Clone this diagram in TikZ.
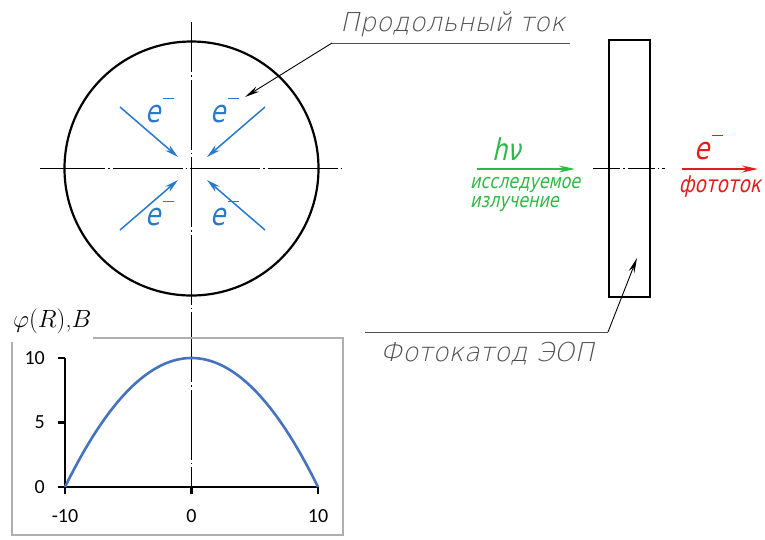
\documentclass[tikz,border=0pt]{standalone}
\usepackage{fontspec}
\usetikzlibrary{arrows.meta}
\newfontfamily\gostl[FakeSlant=0.22]{DejaVu Sans ExtraLight}
\newfontfamily\gostr[FakeSlant=0.22,FakeStretch=0.8]{DejaVu Sans}
\newfontfamily\calib{Carlito}
\definecolor{eblue}{RGB}{40,120,205}
\definecolor{egreen}{RGB}{45,185,70}
\definecolor{ered}{RGB}{225,30,30}
\definecolor{lgrey}{RGB}{80,80,80}
\definecolor{fgrey}{RGB}{175,175,175}
\definecolor{pblue}{RGB}{70,115,190}
\newcommand{\elec}{e\kern0.06em\rule[0.74em]{0.38em}{0.05em}}
\tikzset{
  axisline/.style={line width=0.8pt, black, dash pattern=on 70pt off 3pt on 1.5pt off 3pt},
  ebluearr/.style={line width=1.5pt, eblue, -{Stealth[length=14pt,width=7pt]}},
  leader/.style={line width=0.9pt, lgrey},
  leadarr/.style={line width=0.9pt, black, -{Stealth[length=15pt,width=6pt]}},
  gtext/.style={font=\gostl\fontsize{26}{30}\selectfont, text=lgrey, inner sep=0pt},
  etext/.style={font=\gostr\fontsize{31}{30}\selectfont, text=eblue, inner sep=0pt},
  ticklab/.style={font=\calib\fontsize{20}{24}\selectfont, inner sep=0pt},
  thickax/.style={line width=2.2pt, black},
  radtext/.style={font=\gostr\fontsize{20}{17}\selectfont, text=egreen, inner sep=0pt, anchor=base west},
}
\begin{document}
\begin{tikzpicture}[x=1pt,y=-1pt]
\useasboundingbox (0,0) rectangle (765,539);
% main circle and photocathode
\node[circle, draw, line width=2.2pt, minimum size=254pt, inner sep=0pt] (circ) at (191.5,168.5) {};
\node[draw, line width=2.2pt, minimum width=41pt, minimum height=257pt, inner sep=0pt] (cath) at (629.5,168.5) {};
% centre lines
\coordinate (vtop) at (191.5,22);
\coordinate (vbot) at (191.5,487);
\coordinate (hl) at (40,168.5);
\coordinate (hr) at (345,168.5);
\draw[axisline, dash phase=20pt] (vtop) -- (vbot);
\draw[axisline, dash phase=5pt] (hl) -- (hr);
\coordinate (cl) at (593,168.5);
\coordinate (cr) at (665,168.5);
\draw[line width=0.8pt, dash pattern=on 27pt off 3pt on 1.5pt off 3pt] (cl) -- (cr);
% electrons
\coordinate (a1s) at (120,107); \coordinate (a1e) at (178,157);
\coordinate (a2s) at (265,107); \coordinate (a2e) at (207,157);
\coordinate (a3s) at (120,230); \coordinate (a3e) at (178,180);
\coordinate (a4s) at (265,230); \coordinate (a4e) at (207,180);
\draw[ebluearr] (a1s) -- (a1e);
\draw[ebluearr] (a2s) -- (a2e);
\draw[ebluearr] (a3s) -- (a3e);
\draw[ebluearr] (a4s) -- (a4e);
\node[etext] (e1) at (160,110) {\elec};
\node[etext] (e2) at (225,110) {\elec};
\node[etext] (e3) at (160,213) {\elec};
\node[etext] (e4) at (225,213) {\elec};
% leader: longitudinal current
\node[gtext, anchor=south west] (t1) at (340,37) {Продольный ток};
\coordinate (u1a) at (332,43); \coordinate (u1b) at (570,43);
\coordinate (tip1) at (245,97);
\draw[leader] (u1a) -- (u1b);
\draw[leadarr] (u1a) -- (tip1);
% leader: photocathode
\node[gtext, anchor=north west] (t2) at (380,342) {Фотокатод ЭОП};
\coordinate (u2a) at (365,332); \coordinate (u2b) at (608,332);
\coordinate (tip2) at (637,258);
\draw[leader] (u2a) -- (u2b);
\draw[leadarr] (u2b) -- (tip2);
% radiation
\coordinate (gs) at (477,169); \coordinate (ge) at (575,169);
\draw[line width=1.5pt, egreen, -{Stealth[length=16pt,width=7pt]}] (gs) -- (ge);
\node[font=\gostr\fontsize{30}{30}\selectfont, text=egreen, inner sep=0pt, anchor=base] (hv) at (507,160) {hν};
\node[radtext] (rad1) at (470,188) {исследуемое};
\node[radtext] (rad2) at (470,207) {излучение};
\coordinate (rs) at (682,169); \coordinate (re) at (758,169);
\draw[line width=1.5pt, ered, -{Stealth[length=16pt,width=7pt]}] (rs) -- (re);
\node[font=\gostr\fontsize{31}{30}\selectfont, text=ered, inner sep=0pt] (er) at (709,147) {\elec};
\node[font=\gostr\fontsize{23}{20}\selectfont, text=ered, inner sep=0pt] (ft) at (720,187) {фототок};
% graph frame
\coordinate (f1) at (93,338); \coordinate (f2) at (343,338);
\coordinate (f3) at (343,535); \coordinate (f4) at (12,342); \coordinate (f5) at (12,535);
\draw[fgrey, line width=1.2pt] (f1) -- (f2) -- (f3) -- (f5) -- (f4);
\node[anchor=south west, inner sep=0pt, font=\fontsize{24}{26}\selectfont] (ylab) at (13,334) {$\varphi(R)$,$B$};
% axes
\coordinate (o) at (65,487); \coordinate (ytop) at (65,358); \coordinate (xr) at (318,487);
\draw[thickax] (ytop) -- (o) -- (xr);
\foreach \y/\l in {358/10, 422.5/5, 487/0} {
  \coordinate (yt\l) at (58,\y); \coordinate (ya\l) at (65,\y);
  \draw[thickax] (yt\l) -- (ya\l);
  \node[ticklab, anchor=east] (yl\l) at (45,\y) {\l};
}
\foreach \x/\n/\l in {65/m/-10, 191.5/z/0, 318/p/10} {
  \coordinate (xt\n) at (\x,494); \coordinate (xa\n) at (\x,487);
  \draw[thickax] (xa\n) -- (xt\n);
  \node[ticklab] (xl\n) at (\x,516) {\l};
}
\draw[pblue, line width=2.6pt] plot[domain=-10:10, samples=80, smooth] ({191.5+12.65*\x},{487-12.9*(10-0.1*\x*\x)});
\end{tikzpicture}
\end{document}
